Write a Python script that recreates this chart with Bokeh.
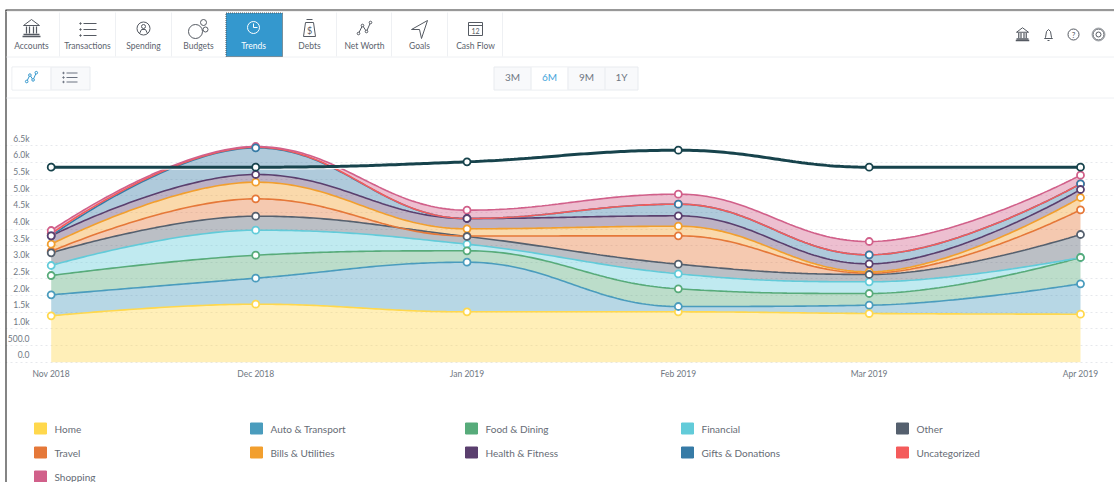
from datetime import datetime, timezone
import numpy as np
from bokeh.plotting import figure
from bokeh.core.properties import value
from bokeh.embed import file_html
from bokeh.resources import INLINE
from bokeh.models import (Range1d, DatetimeAxis, LinearAxis, FixedTicker, DatetimeTickFormatter, Grid)

months = ["2018-11-01", "2018-12-01", "2019-01-01", "2019-02-01", "2019-03-01", "2019-04-01"]
home      = [1393, 1742, 1513, 1513, 1462, 1441]
auto      = [630, 781, 1490, 160, 250, 913]
food      = [580, 690, 342, 531, 351, 790]
financial = [301, 751, 199, 450, 351, 0]
other     = [381, 421, 231, 289, 220, 691]
travel    = [45, 521, 15, 852, 40, 741]
bills     = [214, 500, 216, 289, 40, 370]
health    = [251, 231, 309, 312, 240, 240]
gifts     = [0, 801, 0, 349, 271, 171]
uncat     = [65, 17, 0, 0, 0, 0]
shopping  = [95, 22, 250, 300, 400, 259]
net_total = [5856, 5856, 6018, 6366, 5856, 5856]

names = ["Home", "Auto & Transport", "Food & Dining", "Financial", "Other", "Travel",
         "Bills & Utilities", "Health & Fitness", "Gifts & Donations", "Uncategorized", "Shopping"]
colors = ["#FFD84D", "#4A9CBD", "#57AB7A", "#62CBD9", "#55606E", "#E57839",
          "#F29F2E", "#5A3F6E", "#367BA6", "#F45B5B", "#D1608A"]
series = [home, auto, food, financial, other, travel, bills, health, gifts, uncat, shopping]
net_color = "#17434C"
y_ticks = [0, 500, 1000, 1500, 2000, 2500, 3000, 3500, 4000, 4500, 5000, 5500, 6000, 6500]
y_labels = ["0.0", "500.0", "1.0k", "1.5k", "2.0k", "2.5k", "3.0k", "3.5k", "4.0k", "4.5k", "5.0k", "5.5k", "6.0k", "6.5k"]
nav_labels = ["Accounts", "Transactions", "Spending", "Budgets", "Trends", "Debts", "Net Worth", "Goals", "Cash Flow"]
range_labels = ["3M", "6M", "9M", "1Y"]

FONT = value("Lato")
W, H = 1114, 482


def ms(s):
    return datetime.strptime(s, "%Y-%m-%d").replace(tzinfo=timezone.utc).timestamp() * 1000


xs = np.array([ms(m) for m in months])
# pixel calibration of the plot area
X0_PX, X1_PX = 50.7, 1080.0
BASE_PX, UNIT = 361.7, 500 / 16.65
ms_per_px = (xs[-1] - xs[0]) / (X1_PX - X0_PX)


def px_x(px):
    return xs[0] + (px - X0_PX) * ms_per_px


def spline(xv, yv, n=60):
    """Highcharts-style cubic spline between the monthly values."""
    lc, rc = [], []
    s, d = 1.5, 2.5
    k = len(xv)
    for i in range(k):
        x, y = xv[i], yv[i]
        if i == 0 or i == k - 1:
            lc.append((x, y)); rc.append((x, y)); continue
        lx, ly = (s * x + xv[i-1]) / d, (s * y + yv[i-1]) / d
        rx, ry = (s * x + xv[i+1]) / d, (s * y + yv[i+1]) / d
        c = (ry - ly) * (rx - x) / (rx - lx) + y - ry
        ly += c; ry += c
        if ly > y and ly > yv[i-1]:
            ly = max(y, yv[i-1]); ry = 2 * y - ly
        elif ly < y and ly < yv[i-1]:
            ly = min(y, yv[i-1]); ry = 2 * y - ly
        if ry > y and ry > yv[i+1]:
            ry = max(y, yv[i+1]); ly = 2 * y - ry
        elif ry < y and ry < yv[i+1]:
            ry = min(y, yv[i+1]); ly = 2 * y - ry
        lc.append((lx, ly)); rc.append((rx, ry))
    ox, oy = [], []
    t = np.linspace(0, 1, n)
    for i in range(k - 1):
        p0, p1, p2, p3 = (xv[i], yv[i]), rc[i], lc[i+1], (xv[i+1], yv[i+1])
        bx = (1-t)**3*p0[0] + 3*(1-t)**2*t*p1[0] + 3*(1-t)*t**2*p2[0] + t**3*p3[0]
        by = (1-t)**3*p0[1] + 3*(1-t)**2*t*p1[1] + 3*(1-t)*t**2*p2[1] + t**3*p3[1]
        ox.extend(bx); oy.extend(by)
    return np.array(ox), np.array(oy)


y_start = (BASE_PX - H) * UNIT
y_end = BASE_PX * UNIT

p = figure(width=W, height=H, output_backend="svg", toolbar_location=None, tools="",
           x_axis_type=None, y_axis_type=None,
           x_range=Range1d(px_x(0), px_x(W)), y_range=Range1d(y_start, y_end),
           min_border=0, min_border_left=0, min_border_right=0, min_border_top=0, min_border_bottom=0,
           outline_line_color=None, background_fill_color="white", border_fill_color="white",
           margin=0)
p.grid.visible = False
p.extra_x_ranges["px"] = Range1d(0, W)
p.extra_y_ranges["px"] = Range1d(H, 0)
LABEL_SHIFT = 7 * UNIT
p.extra_y_ranges["labels"] = Range1d(y_start - LABEL_SHIFT, y_end - LABEL_SHIFT)

# grid
grid = Grid(dimension=1, ticker=FixedTicker(ticks=y_ticks), grid_line_color="#e6e8ec",
            grid_line_dash="2 3", grid_line_width=1, level="underlay")
p.add_layout(grid)

# axes
xaxis = DatetimeAxis(ticker=FixedTicker(ticks=list(xs)), fixed_location=0,
                     major_tick_line_color=None, minor_tick_line_color=None, axis_line_color=None,
                     major_label_standoff=1, major_label_text_font="Lato", major_label_text_font_size="8.5px",
                     major_label_text_color="#6f7782")
fmt = "%b %Y"
xaxis.formatter = DatetimeTickFormatter(years=fmt, months=fmt, days=fmt, hours=fmt, hourmin=fmt,
                                        minutes=fmt, minsec=fmt, seconds=fmt, milliseconds=fmt, microseconds=fmt)
p.add_layout(xaxis, "below")
yaxis = LinearAxis(y_range_name="labels", ticker=FixedTicker(ticks=y_ticks), fixed_location=px_x(37),
                   major_tick_line_color=None, minor_tick_line_color=None, axis_line_color=None,
                   major_label_standoff=2, major_label_text_font="Lato", major_label_text_font_size="8.5px",
                   major_label_text_color="#6f7782",
                   major_label_overrides=dict(zip(y_ticks, y_labels)))
p.add_layout(yaxis, "left")

# stacked areas
cum = np.cumsum(np.array(series, dtype=float), axis=0)
lower = np.zeros(len(xs))
curves = []
for i, nm in enumerate(names):
    top = cum[i]
    cx, cy = spline(xs, top)
    _, cl = spline(xs, lower)
    p.varea(cx, cl, cy, fill_color=colors[i], fill_alpha=0.4)
    curves.append((cx, cy))
    lower = top
for i in range(len(names)):
    p.line(curves[i][0], curves[i][1], line_color=colors[i], line_width=1.6)

# total line
nx, ny = spline(xs, np.array(net_total, dtype=float))
p.line(nx, ny - 1.6 * UNIT, line_color="white", line_width=2, line_alpha=0.9)
p.line(nx, ny, line_color=net_color, line_width=3)

# markers
for i in [9, 10, 5, 6, 3, 2, 0, 1, 4, 8, 7]:
    p.scatter(xs, cum[i], size=7, marker="circle", fill_color="white", line_color=colors[i], line_width=1.8)
p.scatter(xs, net_total, size=7, marker="circle", fill_color="white", line_color=net_color, line_width=1.8)

PX = dict(x_range_name="px", y_range_name="px")
INK = "#555a62"


def box(l, t, r, b, fill="white", line=None, lw=1, alpha=1.0):
    p.quad(left=[l], right=[r], top=[t], bottom=[b], fill_color=fill, fill_alpha=alpha, line_color=line, line_width=lw, **PX)


def ln(x, y, c=INK, w=1.0, dash="solid"):
    p.line(x, y, line_color=c, line_width=w, line_dash=dash, **PX)


def dot(x, y, r, c=INK, w=1.0, fill=None):
    p.scatter([x], [y], size=2 * r, marker="circle", fill_color=fill, line_color=c, line_width=w, **PX)


def txt(x, y, s, size="10px", c="#666c75", align="center"):
    p.text([x], [y], text=[s], text_font=FONT, text_font_size=size, text_color=c,
           text_align=align, text_baseline="middle", **PX)


# frame of the screenshot
box(0, 0, 5, H)
box(5, 0, W, 9)
ln([5, W], [9.5, 9.5], c="#333333", w=1.2)
ln([5.5, 5.5], [9.5, H], c="#333333", w=1.2)
ln([6, W], [11, 11], c="#f0f0f0", w=1)

# nav bar
for sep in [59, 115, 171, 336, 391, 447, 502]:
    ln([sep, sep], [12, 56], c="#eef0f3")
ln([6, W], [56.5, 56.5], c="#eef0f3")
ln([6, W], [97.5, 97.5], c="#eef0f3")
box(225.5, 12.5, 282, 56, fill="#3498CE", line="#555555")
p.renderers[-1].glyph.line_dash = "1 1"
nav_x = [31, 87, 143, 198, 253, 309, 364, 419, 475]
for xx, lab in zip(nav_x, nav_labels):
    txt(xx, 45, lab, size="8.5px", c="white" if lab == "Trends" else "#5c636d")


def bank(cx, cy, s=1.0, c=INK):
    ln([cx - 8*s, cx, cx + 8*s, cx - 8*s], [cy - 3*s, cy - 9*s, cy - 3*s, cy - 3*s], c=c)
    for dx in (-5, -2, 2, 5):
        ln([cx + dx*s, cx + dx*s], [cy - 2*s, cy + 5*s], c=c, w=1.2)
    ln([cx - 8*s, cx + 8*s], [cy + 6*s, cy + 6*s], c=c, w=1.3)
    ln([cx - 9*s, cx + 9*s], [cy + 8*s, cy + 8*s], c=c, w=1.3)


def listicon(cx, cy, c=INK, w=8, gap=6):
    for dy in (-gap, 0, gap):
        dot(cx - w, cy + dy, 0.7, c=c, fill=c)
        ln([cx - w + 3, cx + w], [cy + dy, cy + dy], c=c)


def zig(cx, cy, c=INK, s=1.0):
    px_ = [cx - 6*s, cx - 2*s, cx + 2*s, cx + 6*s]
    py_ = [cy + 5*s, cy - 3*s, cy + 3*s, cy - 6*s]
    ln(px_, py_, c=c)
    for a, b in zip(px_, py_):
        dot(a, b, 1.3, c=c, fill="white")


bank(31, 28, 1.0)
listicon(88, 29)
dot(143, 28, 6.5); dot(143, 26, 2); ln([139, 141, 145, 147], [33, 29, 29, 33])
dot(195, 31, 7); dot(203, 22, 3); dot(205, 29, 2.5)
dot(253, 27, 6, c="white"); ln([253, 253, 257], [23, 27, 27], c="white")
ln([305, 303, 315, 313, 305], [22, 36, 36, 22, 22]); ln([306, 312], [19, 19]); txt(309, 30, "$", size="9px", c=INK)
zig(364, 28)
ln([427, 411, 419, 421, 427], [20, 29, 29, 38, 20])
box(468, 22, 482, 35, fill=None, line=INK); ln([468, 482], [25, 25]); txt(475, 30, "12", size="7px", c=INK)

# right icons
bank(1022, 34, 0.75)
ln([1044, 1045, 1046, 1048, 1050, 1051, 1052, 1044], [38, 37, 31, 29, 31, 37, 38, 38])
ln([1047, 1049], [40, 40])
dot(1073, 34, 5.5); txt(1073, 34, "?", size="8px", c=INK)
dot(1098, 34, 5.5); dot(1098, 34, 2.5); dot(1098, 34, 6.5, c=INK, w=0.5)

# button groups
box(11.5, 66.5, 89.5, 89.5, fill="#f8f9fb", line="#e8ebef")
box(12, 67, 50, 89, fill="white")
ln([50.5, 50.5], [67, 89], c="#e8ebef")
zig(31, 77, c="#3498CE", s=0.8)
listicon(70, 77, c="#6b7280", w=7, gap=4.5)
box(493.5, 66.5, 637.5, 89.5, fill="#f8f9fb", line="#e8ebef")
box(531, 67, 567, 89, fill="white")
for sep in [530.5, 567.5, 604.5]:
    ln([sep, sep], [67, 89], c="#e8ebef")
for xx, lab in zip([512, 549, 586, 621], range_labels):
    txt(xx, 76.5, lab, size="10px", c="#45A5DB" if lab == "6M" else "#6f7782")

# legend
leg_x = [34, 250, 465, 681, 896]
leg_y = [428, 452, 476]
for i, nm in enumerate(names):
    lx, ly = leg_x[i % 5], leg_y[i // 5]
    box(lx, ly - 5.5, lx + 12, ly + 5.5, fill=colors[i], line=colors[i])
    txt(lx + 20, ly, nm, size="10px", c="#666c75", align="left")

open("out.html", "w").write(file_html(p, INLINE))
